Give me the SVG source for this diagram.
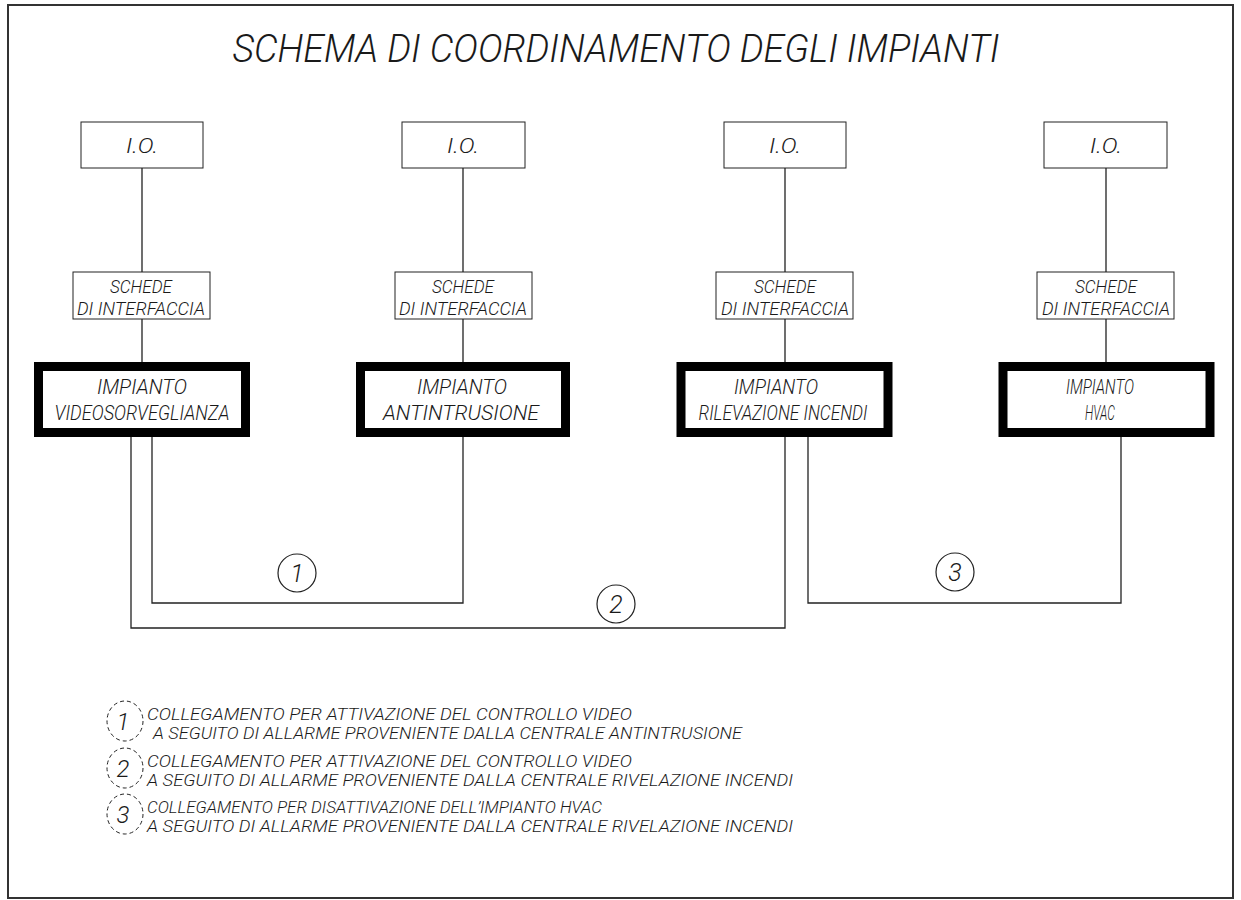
<svg xmlns="http://www.w3.org/2000/svg" width="1241" height="900" viewBox="0 0 1241 900">
<style>
  .t { font-family: Roboto, "Liberation Sans", sans-serif; font-style: italic; font-weight: 300; fill: #1a1a1a; }
  .box { fill: none; stroke: #222; stroke-width: 1; }
  .thick { fill: none; stroke: #000; stroke-width: 9; }
  .wire { fill: none; stroke: #222; stroke-width: 1.3; }
  .num { fill: none; stroke: #222; stroke-width: 1.2; }
  .dash { fill: none; stroke: #222; stroke-width: 1; stroke-dasharray: 4 3; }
</style>
<rect x="0" y="0" width="1241" height="900" fill="#fff"/>
<rect x="8" y="5" width="1225" height="893" fill="none" stroke="#333" stroke-width="2"/>
<text class="t" x="616" y="62" font-size="39" text-anchor="middle" textLength="767" lengthAdjust="spacingAndGlyphs">SCHEMA DI COORDINAMENTO DEGLI IMPIANTI</text>

<g id="connectors">
  <path class="wire" d="M142 168V272M142 319V362"/>
  <path class="wire" d="M463 168V272M463 319V362"/>
  <path class="wire" d="M785 168V272M785 319V362"/>
  <path class="wire" d="M1106 168V272M1106 319V362"/>
  <path class="wire" d="M152 437V603H463V437"/>
  <path class="wire" d="M131 437V628H785V437"/>
  <path class="wire" d="M808 437V603H1121V437"/>
  <circle class="num" cx="297" cy="573" r="19"/>
  <text class="t" x="297" y="582" font-size="25" text-anchor="middle">1</text>
  <circle class="num" cx="616" cy="604" r="19"/>
  <text class="t" x="616" y="613" font-size="25" text-anchor="middle">2</text>
  <circle class="num" cx="955" cy="572" r="19"/>
  <text class="t" x="955" y="581" font-size="25" text-anchor="middle">3</text>
</g>

<g id="io1"><rect class="box" x="81" y="122" width="122" height="46"/><text class="t" x="142" y="153" font-size="20" text-anchor="middle" textLength="32" lengthAdjust="spacingAndGlyphs">I.O.</text></g>
<g id="io2"><rect class="box" x="402" y="122" width="123" height="46"/><text class="t" x="463" y="153" font-size="20" text-anchor="middle" textLength="32" lengthAdjust="spacingAndGlyphs">I.O.</text></g>
<g id="io3"><rect class="box" x="724" y="122" width="122" height="46"/><text class="t" x="785" y="153" font-size="20" text-anchor="middle" textLength="32" lengthAdjust="spacingAndGlyphs">I.O.</text></g>
<g id="io4"><rect class="box" x="1044" y="122" width="123" height="46"/><text class="t" x="1106" y="153" font-size="20" text-anchor="middle" textLength="32" lengthAdjust="spacingAndGlyphs">I.O.</text></g>

<g id="sch1"><rect class="box" x="73" y="272" width="137" height="47"/><text class="t" x="141" y="293" font-size="19" text-anchor="middle" textLength="62" lengthAdjust="spacingAndGlyphs">SCHEDE</text><text class="t" x="141" y="315" font-size="19" text-anchor="middle" textLength="128" lengthAdjust="spacingAndGlyphs">DI INTERFACCIA</text></g>
<g id="sch2"><rect class="box" x="395" y="272" width="137" height="47"/><text class="t" x="463" y="293" font-size="19" text-anchor="middle" textLength="62" lengthAdjust="spacingAndGlyphs">SCHEDE</text><text class="t" x="463" y="315" font-size="19" text-anchor="middle" textLength="128" lengthAdjust="spacingAndGlyphs">DI INTERFACCIA</text></g>
<g id="sch3"><rect class="box" x="716" y="272" width="137" height="47"/><text class="t" x="785" y="293" font-size="19" text-anchor="middle" textLength="62" lengthAdjust="spacingAndGlyphs">SCHEDE</text><text class="t" x="785" y="315" font-size="19" text-anchor="middle" textLength="128" lengthAdjust="spacingAndGlyphs">DI INTERFACCIA</text></g>
<g id="sch4"><rect class="box" x="1037" y="272" width="137" height="47"/><text class="t" x="1106" y="293" font-size="19" text-anchor="middle" textLength="62" lengthAdjust="spacingAndGlyphs">SCHEDE</text><text class="t" x="1106" y="315" font-size="19" text-anchor="middle" textLength="128" lengthAdjust="spacingAndGlyphs">DI INTERFACCIA</text></g>

<g id="imp1"><rect class="thick" x="38.5" y="366.5" width="207" height="66"/><text class="t" x="142" y="394" font-size="20" text-anchor="middle" textLength="90" lengthAdjust="spacingAndGlyphs">IMPIANTO</text><text class="t" x="142" y="420" font-size="20" text-anchor="middle" textLength="175" lengthAdjust="spacingAndGlyphs">VIDEOSORVEGLIANZA</text></g>
<g id="imp2"><rect class="thick" x="360.5" y="366.5" width="205" height="66"/><text class="t" x="462" y="394" font-size="20" text-anchor="middle" textLength="90" lengthAdjust="spacingAndGlyphs">IMPIANTO</text><text class="t" x="461" y="420" font-size="20" text-anchor="middle" textLength="156" lengthAdjust="spacingAndGlyphs">ANTINTRUSIONE</text></g>
<g id="imp3"><rect class="thick" x="681" y="366.5" width="207" height="66"/><text class="t" x="776" y="394" font-size="20" text-anchor="middle" textLength="84" lengthAdjust="spacingAndGlyphs">IMPIANTO</text><text class="t" x="783" y="420" font-size="20" text-anchor="middle" textLength="169" lengthAdjust="spacingAndGlyphs">RILEVAZIONE INCENDI</text></g>
<g id="imp4"><rect class="thick" x="1003" y="366.5" width="207" height="66"/><text class="t" x="1100" y="394" font-size="20" text-anchor="middle" textLength="68" lengthAdjust="spacingAndGlyphs">IMPIANTO</text><text class="t" x="1100" y="420" font-size="20" text-anchor="middle" textLength="30" lengthAdjust="spacingAndGlyphs">HVAC</text></g>

<g id="legend">
  <ellipse class="dash" cx="125" cy="721" rx="18" ry="20"/>
  <text class="t" x="123" y="730" font-size="24" text-anchor="middle">1</text>
  <text class="t" x="147" y="720" font-size="17" textLength="485" lengthAdjust="spacingAndGlyphs">COLLEGAMENTO PER ATTIVAZIONE DEL CONTROLLO VIDEO</text>
  <text class="t" x="153" y="739" font-size="17" textLength="589" lengthAdjust="spacingAndGlyphs">A SEGUITO DI ALLARME PROVENIENTE DALLA CENTRALE ANTINTRUSIONE</text>
  <ellipse class="dash" cx="125" cy="768" rx="18" ry="20"/>
  <text class="t" x="123" y="777" font-size="24" text-anchor="middle">2</text>
  <text class="t" x="147" y="767" font-size="17" textLength="485" lengthAdjust="spacingAndGlyphs">COLLEGAMENTO PER ATTIVAZIONE DEL CONTROLLO VIDEO</text>
  <text class="t" x="147" y="786" font-size="17" textLength="646" lengthAdjust="spacingAndGlyphs">A SEGUITO DI ALLARME PROVENIENTE DALLA CENTRALE RIVELAZIONE INCENDI</text>
  <ellipse class="dash" cx="125" cy="814" rx="18" ry="20"/>
  <text class="t" x="123" y="823" font-size="24" text-anchor="middle">3</text>
  <text class="t" x="147" y="813" font-size="17" textLength="455" lengthAdjust="spacingAndGlyphs">COLLEGAMENTO PER DISATTIVAZIONE DELL’IMPIANTO HVAC</text>
  <text class="t" x="147" y="832" font-size="17" textLength="646" lengthAdjust="spacingAndGlyphs">A SEGUITO DI ALLARME PROVENIENTE DALLA CENTRALE RIVELAZIONE INCENDI</text>
</g>
</svg>
